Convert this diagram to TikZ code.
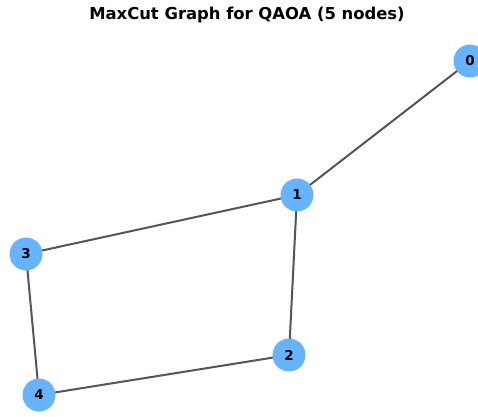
\documentclass[tikz,border=0pt]{standalone}
\usepackage{fontspec}
\setmainfont{DejaVu Sans}
\definecolor{nodeblue}{HTML}{66B3FF}
\definecolor{edgegray}{HTML}{555555}
\begin{document}
\begin{tikzpicture}[x=1pt,y=-1pt,
  vertex/.style={circle,fill=nodeblue,draw=none,minimum size=33pt,inner sep=0pt,font=\bfseries\fontsize{13.5}{15}\selectfont},
  edge/.style={draw=edgegray,line width=2pt}]
\useasboundingbox (0,0) rectangle (478,416);
\clip (0,0) rectangle (478,416);
\fill[white] (0,0) rectangle (478,416);
\node[font=\bfseries\fontsize{16.4}{19}\selectfont] (title) at (247,15) {MaxCut Graph for QAOA (5 nodes)};
\coordinate (p0) at (470,61);
\coordinate (p1) at (297,195);
\coordinate (p2) at (289,355);
\coordinate (p3) at (26,254);
\coordinate (p4) at (39,395);
\draw[edge] (p0) -- (p1);
\draw[edge] (p1) -- (p3);
\draw[edge] (p1) -- (p2);
\draw[edge] (p3) -- (p4);
\draw[edge] (p4) -- (p2);
\node[vertex] (n0) at (p0) {0};
\node[vertex] (n1) at (p1) {1};
\node[vertex] (n2) at (p2) {2};
\node[vertex] (n3) at (p3) {3};
\node[vertex] (n4) at (p4) {4};
\end{tikzpicture}
\end{document}
